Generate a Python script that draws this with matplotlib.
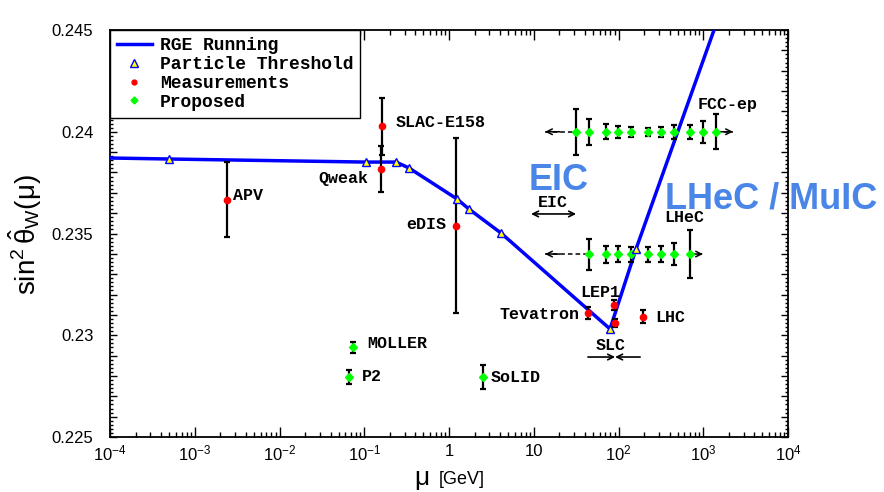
import matplotlib.pyplot as plt
from matplotlib.lines import Line2D
from matplotlib.ticker import MultipleLocator, FuncFormatter, LogLocator, NullFormatter

plt.rcParams['font.family'] = ['Liberation Sans', 'DejaVu Sans']
plt.rcParams['mathtext.fontset'] = 'custom'
plt.rcParams['mathtext.rm'] = 'Liberation Sans'
plt.rcParams['mathtext.it'] = 'Liberation Sans'
plt.rcParams['mathtext.sf'] = 'Liberation Sans'

# RGE running curve
rge_mu = [1e-4, 4.97e-4, 0.105, 0.237, 0.337, 1.24, 1.72, 4.11, 79.4, 161, 1340, 2500]
rge_s2w = [0.23871, 0.23866, 0.23851, 0.23851, 0.23822, 0.23670, 0.23620, 0.23502,
           0.23031, 0.23424, 0.24500, 0.24820]

# particle thresholds
thr_mu = [4.97e-4, 0.105, 0.237, 0.337, 1.24, 1.72, 4.11, 79.4, 161]
thr_s2w = [0.23866, 0.23851, 0.23851, 0.23822, 0.23670, 0.23620, 0.23502, 0.23031, 0.23424]

# measurements
meas_names = ['APV', 'Qweak', 'SLAC-E158', 'eDIS', 'Tevatron', 'LEP1', 'SLC', 'LHC']
meas_mu = [0.0024, 0.158, 0.160, 1.21, 43.6, 88.5, 91.2, 194]
meas_s2w = [0.23665, 0.23817, 0.24028, 0.23537, 0.23109, 0.23149, 0.23060, 0.23090]
meas_err = [0.00184, 0.00113, 0.0014, 0.0043, 0.0003, 0.00025, 0.0002, 0.00032]

# proposed low energy experiments
prop_names = ['MOLLER', 'P2', 'SoLID']
prop_mu = [0.0736, 0.066, 2.52]
prop_s2w = [0.22942, 0.22795, 0.22795]
prop_err = [0.00027, 0.00035, 0.0006]

# FCC-ep projection
fcc_mu = [31.6, 44.5, 70.6, 99.5, 139, 221, 315, 448, 703, 993, 1413]
fcc_s2w = [0.240] * 11
fcc_err = [0.00113, 0.00064, 0.00037, 0.0003, 0.00025, 0.0002, 0.00025, 0.00034, 0.00034, 0.00054, 0.00086]
fcc_range = [13.6, 2244]

# LHeC projection
lhec_mu = [44.5, 70.6, 99.5, 141, 221, 315, 448, 703]
lhec_s2w = [0.23399] * 8
lhec_err = [0.00076, 0.00042, 0.00039, 0.00037, 0.00037, 0.00041, 0.00052, 0.00118]
lhec_range = [13.6, 993]

eic_range = [9.3, 31.6]
slc_range = [43.6, 91.2, 180]

fig = plt.figure(figsize=(8.84, 4.92), dpi=100)
ax = fig.add_axes([110/884, 55/492, 678/884, 407/492])

mono = dict(family='Liberation Mono', weight='bold', size=12)
eb = dict(ecolor='black', elinewidth=1.6, capsize=2, capthick=1.6, ls='none')

ax.plot(rge_mu, rge_s2w, color='blue', lw=2.5, zorder=3)
ax.plot(thr_mu, thr_s2w, ls='none', marker='^', ms=6, mfc='yellow', mec='blue', mew=1, zorder=5)

ax.errorbar(meas_mu, meas_s2w, yerr=meas_err, marker='o', ms=4.5, mfc='red', mec='red', zorder=4, **eb)
ax.errorbar(prop_mu, prop_s2w, yerr=prop_err, marker='D', ms=4, mfc='lime', mec='lime', zorder=4, **eb)
ax.errorbar(fcc_mu, fcc_s2w, yerr=fcc_err, marker='D', ms=4, mfc='lime', mec='lime', zorder=4, **eb)
ax.errorbar(lhec_mu, lhec_s2w, yerr=lhec_err, marker='D', ms=4, mfc='lime', mec='lime', zorder=4, **eb)

# dashed arrows showing kinematic reach
for rng, pts, y in [(fcc_range, fcc_mu, fcc_s2w[0]), (lhec_range, lhec_mu, lhec_s2w[0])]:
    ax.plot([rng[0], pts[0]], [y, y], 'k--', lw=1.1, dashes=(3, 2), zorder=2)
    ax.plot([pts[-1], rng[1]], [y, y], 'k--', lw=1.1, dashes=(3, 2), zorder=2)
    ax.annotate('', xy=(rng[0], y), xytext=(rng[0] * 1.5, y),
                arrowprops=dict(arrowstyle='->', color='black', lw=1.1, shrinkA=0, shrinkB=0))
    ax.annotate('', xy=(rng[1], y), xytext=(rng[1] / 1.5, y),
                arrowprops=dict(arrowstyle='->', color='black', lw=1.1, shrinkA=0, shrinkB=0))

ax.annotate('', xy=(eic_range[1], 0.23596), xytext=(eic_range[0], 0.23596),
            arrowprops=dict(arrowstyle='<->', color='black', lw=1.2, shrinkA=0, shrinkB=0))
ax.annotate('', xy=(slc_range[1], 0.22893), xytext=(slc_range[0], 0.22893),
            arrowprops=dict(arrowstyle='->', color='black', lw=1.2, shrinkA=0, shrinkB=0))
ax.annotate('', xy=(slc_range[1], 0.22893), xytext=(slc_range[2], 0.22893),
            arrowprops=dict(arrowstyle='->', color='black', lw=1.2, shrinkA=0, shrinkB=0))

# labels
ax.text(0.00282, 0.23665, 'APV', ha='left', va='baseline', **mono)
ax.text(0.1107, 0.23748, 'Qweak', ha='right', va='baseline', **mono)
ax.text(0.237, 0.24023, 'SLAC-E158', ha='left', va='baseline', **mono)
ax.text(0.92, 0.23522, 'eDIS', ha='right', va='baseline', **mono)
ax.text(16.9, 0.2363, 'EIC', ha='center', va='baseline', **mono)
ax.text(867, 0.24112, 'FCC-ep', ha='left', va='baseline', **mono)
ax.text(344, 0.23557, 'LHeC', ha='left', va='baseline', **mono)
ax.text(35.2, 0.23188, 'LEP1', ha='left', va='baseline', **mono)
ax.text(34.2, 0.2308, 'Tevatron', ha='right', va='baseline', **mono)
ax.text(270, 0.23065, 'LHC', ha='left', va='baseline', **mono)
ax.text(81.6, 0.22928, 'SLC', ha='center', va='baseline', **mono)
ax.text(0.108, 0.22937, 'MOLLER', ha='left', va='baseline', **mono)
ax.text(0.094, 0.22775, 'P2', ha='left', va='baseline', **mono)
ax.text(3.13, 0.2277, 'SoLID', ha='left', va='baseline', **mono)

ax.text(19.9, 0.23714, 'EIC', ha='center', va='baseline', fontsize=26,
        fontweight='bold', color='#4a86e8')
ax.text(354, 0.23625, 'LHeC / MuIC', ha='left', va='baseline', fontsize=26,
        fontweight='bold', color='#4a86e8')

ax.set_xscale('log')
ax.set_xlim(1e-4, 1e4)
ax.set_ylim(0.225, 0.245)
ax.set_xticks([1e-4, 1e-3, 1e-2, 1e-1, 1, 10, 1e2, 1e3, 1e4])
ax.set_xticklabels([r'$10^{-4}$', r'$10^{-3}$', r'$10^{-2}$', r'$10^{-1}$', '1', '10',
                    r'$10^{2}$', r'$10^{3}$', r'$10^{4}$'])
ax.xaxis.set_minor_locator(LogLocator(base=10, subs=range(2, 10), numticks=20))
ax.xaxis.set_minor_formatter(NullFormatter())
ax.yaxis.set_major_locator(MultipleLocator(0.001))
ax.yaxis.set_minor_locator(MultipleLocator(0.0002))
ax.yaxis.set_major_formatter(FuncFormatter(
    lambda v, _: ('%g' % round(v, 3)) if abs(v * 200 - round(v * 200)) < 1e-6 else ''))

ax.tick_params(which='both', direction='in', top=True, right=True, width=1, labelsize=12)
ax.tick_params(axis='x', which='major', length=7, pad=5)
ax.tick_params(axis='x', which='minor', length=3.5)
ax.tick_params(axis='y', which='major', length=5, pad=12)
ax.tick_params(axis='y', which='minor', length=2.5)
for s in ax.spines.values():
    s.set_linewidth(1.3)

fig.text(25/884, 1 - 235/492, r'$\sin^2\hat{\theta}_W(\mu)$', rotation=90,
         ha='center', va='center', fontsize=20)
fig.text(422/884, 1 - 485/492, r'$\mu$', ha='center', va='baseline', fontsize=19)
fig.text(462/884, 1 - 479/492, '[GeV]', ha='center', va='center', fontsize=13)

handles = [Line2D([], [], color='blue', lw=2.5),
           Line2D([], [], ls='none', marker='^', ms=6, mfc='yellow', mec='blue'),
           Line2D([], [], ls='none', marker='o', ms=3.5, mfc='red', mec='red'),
           Line2D([], [], ls='none', marker='D', ms=3.5, mfc='lime', mec='lime')]
leg = ax.legend(handles, ['RGE Running', 'Particle Threshold', 'Measurements', 'Proposed'],
                loc='upper left', bbox_to_anchor=(0, 1), borderaxespad=0,
                prop=dict(family='Liberation Mono', weight='bold', size=13),
                fancybox=False, framealpha=1, edgecolor='black', labelspacing=0.1,
                handlelength=1.9, handletextpad=0.45, borderpad=0.4)
leg.get_frame().set_linewidth(1)

plt.savefig('out.png', dpi=100)
